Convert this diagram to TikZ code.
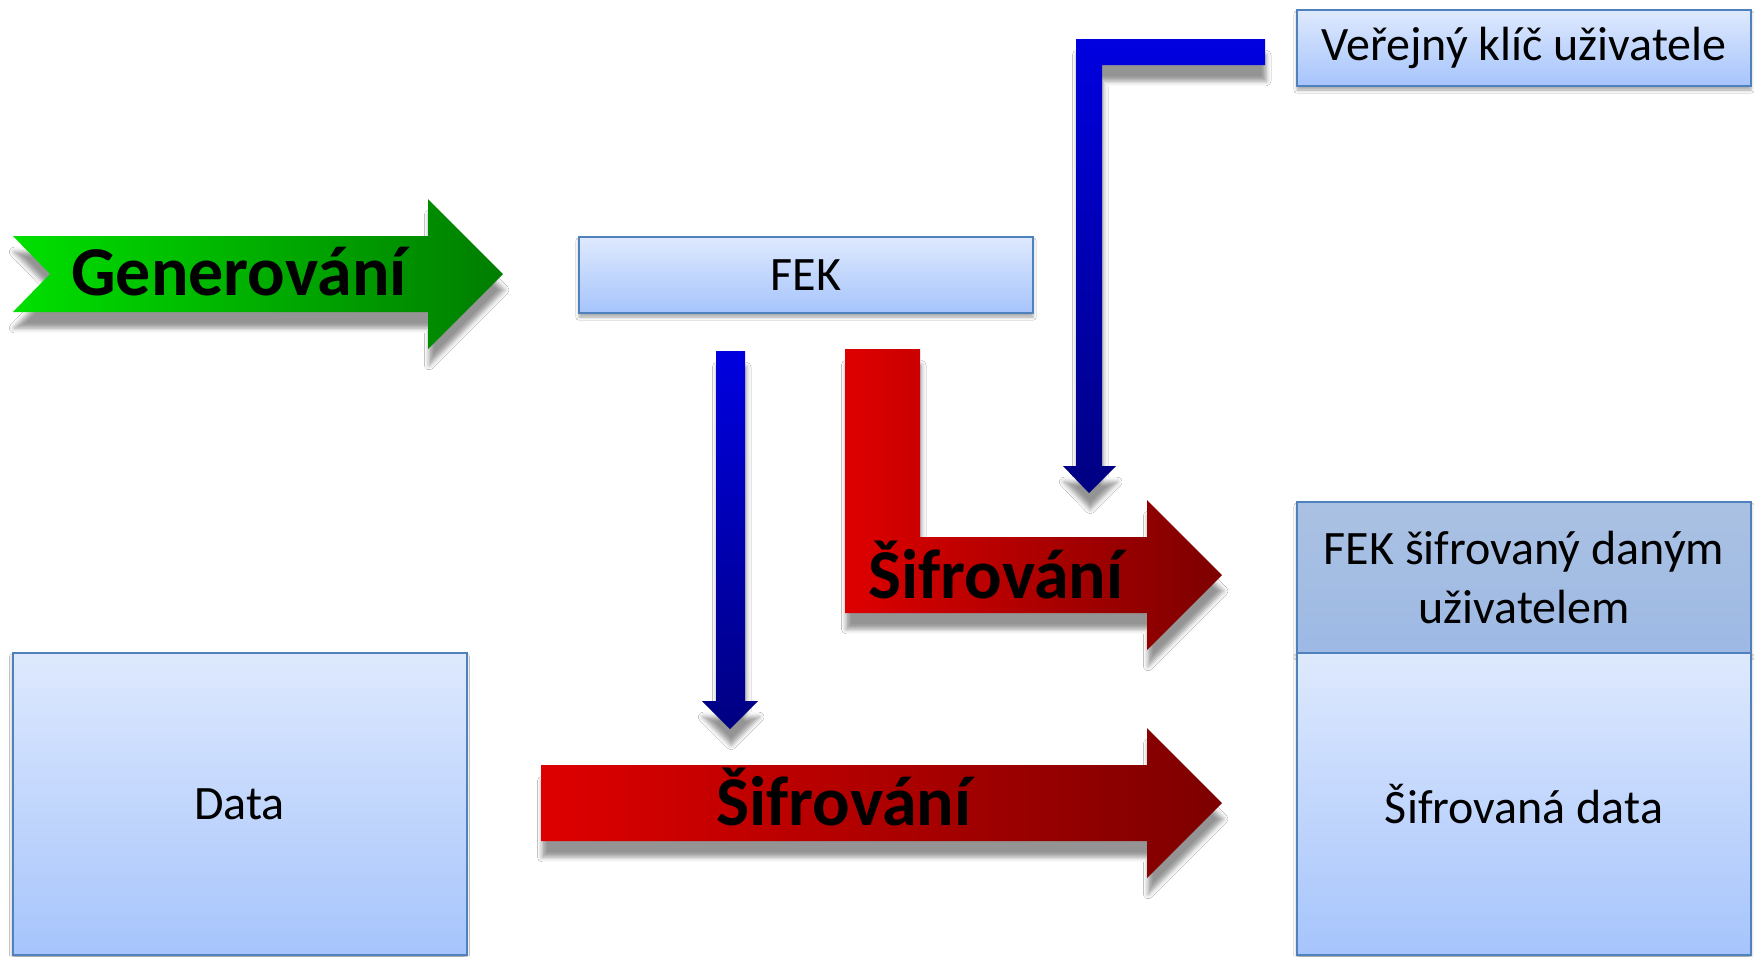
\documentclass[tikz,border=0pt]{standalone}
\usepackage{fontspec}
\setmainfont{Carlito}
\usetikzlibrary{shadows.blur}
\definecolor{boxtop}{RGB}{222,233,253}
\definecolor{boxbot}{RGB}{166,196,252}
\definecolor{boxline}{RGB}{79,129,189}
\definecolor{keytop}{RGB}{170,193,226}
\definecolor{keybot}{RGB}{157,185,228}
\definecolor{genleft}{RGB}{0,224,0}
\definecolor{genright}{RGB}{0,125,0}
\definecolor{encleft}{RGB}{222,0,0}
\definecolor{encright}{RGB}{125,0,0}
\definecolor{flowtop}{RGB}{0,0,224}
\definecolor{flowbot}{RGB}{0,0,130}
\newcommand{\boxfont}{\fontsize{12}{14.6}\selectfont}
\newcommand{\bigfont}{\fontsize{17.5}{20}\selectfont\bfseries}
\tikzset{
  infobox/.style={draw=boxline,line width=0.5pt,top color=boxtop,bottom color=boxbot,
    minimum width=113.5pt,inner sep=0pt,align=center,font=\boxfont,
    blur shadow={shadow xshift=0pt,shadow yshift=-1pt,shadow blur radius=0.8pt,shadow opacity=35}},
  blockarrow/.style={blur shadow={shadow xshift=0.3pt,shadow yshift=-4pt,shadow blur radius=1.2pt,shadow opacity=42}},
}
\begin{document}
\begin{tikzpicture}[x=0.25pt,y=-0.25pt]
  \path[use as bounding box,fill=white] (0,0) rectangle (1754,956);
  % boxes
  \node[infobox,minimum height=19pt] (pubkey) at (1524,48) {Veřejný klíč uživatele};
  \node[infobox,minimum height=19pt] (fek) at (806,275) {FEK};
  \node[infobox,minimum height=75.5pt] (data) at (239.5,804) {Data};
  \node[infobox,minimum height=37.75pt,top color=keytop,bottom color=keybot] (enckey) at (1524,577.5) {FEK šifrovaný daným\\uživatelem};
  \node[infobox,minimum height=75.5pt] (encdata) at (1524,804) {Šifrovaná data};

  % block arrows
  \path[blockarrow,left color=genleft,right color=genright]
    (13,236) -- (428,236) -- (428,199) -- (503,274) -- (428,349) -- (428,312) -- (13,312) -- (50,274) -- cycle;
  \path[blockarrow,top color=flowtop,bottom color=flowbot]
    (1265,39) -- (1265,65) -- (1102,65) -- (1102,466) -- (1116,466) -- (1089,493) -- (1063,466) -- (1076,466) -- (1076,39) -- cycle;
  \path[blockarrow,top color=flowtop,bottom color=flowbot]
    (716,351) -- (745,351) -- (745,701) -- (758,701) -- (730,729) -- (702,701) -- (716,701) -- cycle;
  \path[blockarrow,left color=encleft,right color=encright]
    (845,349) -- (920,349) -- (920,537) -- (1147,537) -- (1147,500) -- (1222,575) -- (1147,650) -- (1147,613) -- (845,613) -- cycle;
  \path[blockarrow,left color=encleft,right color=encright]
    (541,765) -- (1147,765) -- (1147,728) -- (1222,803) -- (1147,878) -- (1147,841) -- (541,841) -- cycle;

  \node[font=\bigfont,anchor=base] (gen) at (239,295) {Generování};
  \node[font=\bigfont,anchor=base] (enckeylabel) at (996,598) {Šifrování};
  \node[font=\bigfont,anchor=base] (encdatalabel) at (844,825) {Šifrování};
\end{tikzpicture}
\end{document}
